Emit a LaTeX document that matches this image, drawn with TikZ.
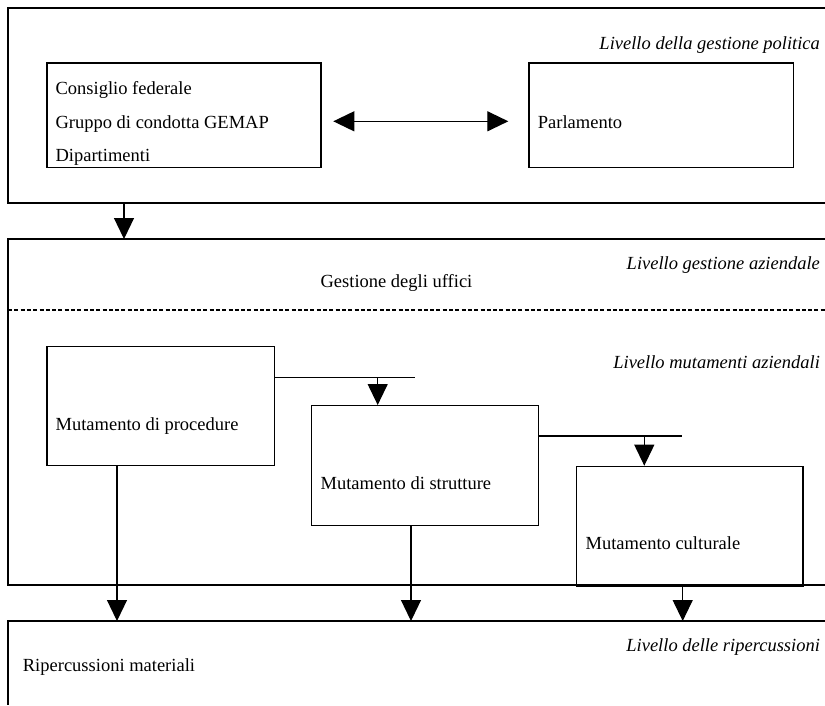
\documentclass[tikz,border=0pt]{standalone}
\usepackage{fontspec}
\setmainfont{Liberation Serif}
\usetikzlibrary{arrows.meta}

\begin{document}
\begin{tikzpicture}[x=1pt,y=-1pt,line width=1.2pt,
    box/.style={draw,rectangle,inner sep=0pt,anchor=north west},
    txt/.style={inner sep=0pt,anchor=base west,font=\fontsize{18.5}{22}\selectfont},
    lvl/.style={inner sep=0pt,anchor=base east,font=\fontsize{18.5}{22}\selectfont\itshape},
    arr/.style={-{Triangle[length=21pt,width=20pt]}},
    dbl/.style={{Triangle[length=21pt,width=20pt]}-{Triangle[length=21pt,width=20pt]}}]
  \useasboundingbox (0,0) rectangle (825,705);

  % bands
  \coordinate (b1) at (8,203);
  \coordinate (b2) at (8,239);
  \coordinate (b2e) at (8,585);
  \coordinate (b3) at (8,621);
  \draw (825,8) -- (8,8) -- (b1) -- (825,203);
  \draw (825,239) -- (b2) -- (b2e) -- (825,585);
  \draw[dash pattern=on 4pt off 2.3pt] (8,310) -- (825,310);
  \draw (825,621) -- (b3) -- (8,705);

  % level names
  \node[lvl] (pol) at (820.5,49) {Livello della gestione politica};
  \node[lvl] (gest) at (820.5,269.3) {Livello gestione aziendale};
  \node[lvl] (mut) at (820.5,368) {Livello mutamenti aziendali};
  \node[lvl] (rip) at (820.5,651.5) {Livello delle ripercussioni};

  % political level
  \node[box,minimum width=274pt,minimum height=104.7pt] (cons) at (46.3,62.3) {};
  \node[txt] (cf) at (55,94.5) {Consiglio federale};
  \node[txt] (gc) at (55,128.3) {Gruppo di condotta GEMAP};
  \node[txt] (dip) at (55,161) {Dipartimenti};
  \node[box,minimum width=264.4pt,minimum height=104.7pt] (parl) at (528.3,62.3) {};
  \node[txt] (parlt) at (537.3,128.5) {Parlamento};
  \coordinate (a1) at (333.3,121.3);
  \coordinate (a2) at (508.3,121.3);
  \draw[dbl] (a1) -- (a2);

  \coordinate (d0) at (124,0);
  \draw[arr] (d0 |- b1) -- (d0 |- b2);

  % management level
  \node[txt] (uff) at (320,287) {Gestione degli uffici};

  \node[box,minimum width=227.4pt,minimum height=119.3pt] (proc) at (46.3,345.7) {};
  \node[txt] (proct) at (55,430) {Mutamento di procedure};
  \node[box,minimum width=227pt,minimum height=120pt] (strut) at (310.7,405) {};
  \node[txt] (strutt) at (320,489) {Mutamento di strutture};
  \node[box,minimum width=226.6pt,minimum height=119.6pt] (cult) at (575.7,465.7) {};
  \node[txt] (cultt) at (585,549.3) {Mutamento culturale};

  \coordinate (h1) at (415,377.7);
  \coordinate (j1) at (377.7,377.7);
  \draw (proc.east |- h1) -- (h1);
  \draw[arr] (j1) -- (j1 |- strut.north);
  \coordinate (h2) at (681.7,436);
  \coordinate (j2) at (644.3,436);
  \draw (strut.east |- h2) -- (h2);
  \draw[arr] (j2) -- (j2 |- cult.north);

  % effects
  \coordinate (d1) at (117,0);
  \coordinate (d2) at (411,0);
  \coordinate (d3) at (682.7,0);
  \draw[arr] (d1 |- proc.south) -- (d1 |- b3);
  \draw[arr] (d2 |- strut.south) -- (d2 |- b3);
  \draw[arr] (d3 |- b2e) -- (d3 |- b3);
  \node[txt] (mat) at (22.3,671) {Ripercussioni materiali};
\end{tikzpicture}
\end{document}
